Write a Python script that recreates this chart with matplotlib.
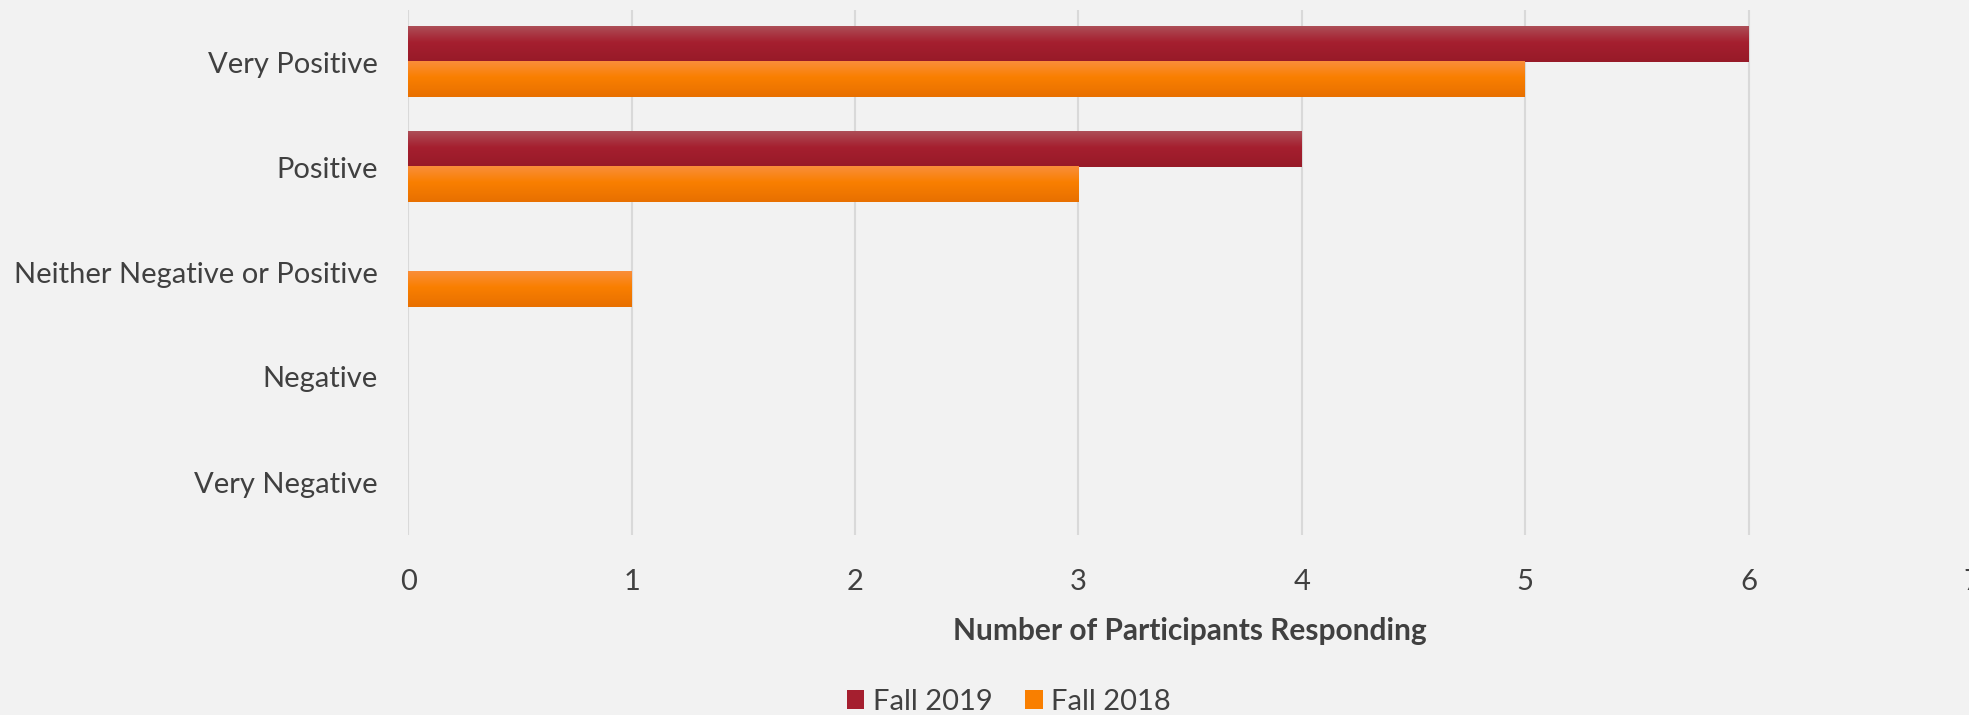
import numpy as np
import matplotlib.pyplot as plt
from matplotlib.colors import to_rgb
from matplotlib.patches import Patch

categories = ["Very Positive", "Positive", "Neither Negative or Positive", "Negative", "Very Negative"]
fall_2019 = [6, 4, 0, 0, 0]
fall_2018 = [5, 3, 1, 0, 0]
series_names = ["Fall 2019", "Fall 2018"]

# gradient stops (top -> bottom) for each series, Excel-like shading
red_stops = ["#AD4E57", "#A51F2F", "#971A28"]
orange_stops = ["#FA8E3A", "#F97F00", "#E87000"]

plt.rcParams['font.family'] = ['Lato', 'DejaVu Sans']
text_col = "#404040"
bg = "#F2F2F2"

fig = plt.figure(figsize=(19.69, 7.15), dpi=100, facecolor=bg)
ax = fig.add_axes([408.3 / 1969, 1 - 534.5 / 715, 1563.7 / 1969, 525 / 715])
ax.set_facecolor(bg)

y = np.arange(len(categories))
h = 0.338


def gradient(stops, n=64):
    cols = np.array([to_rgb(c) for c in stops])
    pos = np.array([0.0, 0.45, 1.0])
    t = np.linspace(0, 1, n)
    g = np.stack([np.interp(t, pos, cols[:, k]) for k in range(3)], axis=1)
    return g[:, None, :]


bars19 = ax.barh(y - h / 2, fall_2019, height=h, color=red_stops[1], linewidth=0, zorder=2)
bars18 = ax.barh(y + h / 2, fall_2018, height=h, color=orange_stops[1], linewidth=0, zorder=2)

for bars, stops in [(bars19, red_stops), (bars18, orange_stops)]:
    g = gradient(stops)
    for p in bars:
        w = p.get_width()
        if w == 0:
            continue
        x0, y0, hh = p.get_x(), p.get_y(), p.get_height()
        ax.imshow(g, extent=[x0, x0 + w, y0 + hh, y0], origin='upper',
                  aspect='auto', zorder=3, interpolation='bilinear')

ax.set_xlim(0, 7)
ax.set_ylim(4.5, -0.5)
ax.set_xticks(range(0, 8))
ax.set_yticks(y)
ax.set_yticklabels(categories)
ax.tick_params(axis='both', length=0, labelsize=21, labelcolor=text_col)
ax.tick_params(axis='x', pad=25)
ax.tick_params(axis='y', pad=22)
ax.grid(axis='x', color="#D9D9D9", linewidth=1.5, zorder=0)
ax.set_axisbelow(True)
for s in ax.spines.values():
    s.set_visible(False)

ax.set_xlabel("Number of Participants Responding", fontsize=21.5, fontweight='bold',
              color=text_col, labelpad=16)

handles = [Patch(facecolor=red_stops[1]), Patch(facecolor=orange_stops[1])]
fig.legend(handles, series_names, loc='center', bbox_to_anchor=(1009 / 1969, 1 - 702 / 715),
           ncol=2, frameon=False, fontsize=21, labelcolor=text_col,
           handlelength=0.6, handleheight=0.6, handletextpad=0.3, columnspacing=1.1)

fig.savefig("out.png", dpi=100, facecolor=bg)
